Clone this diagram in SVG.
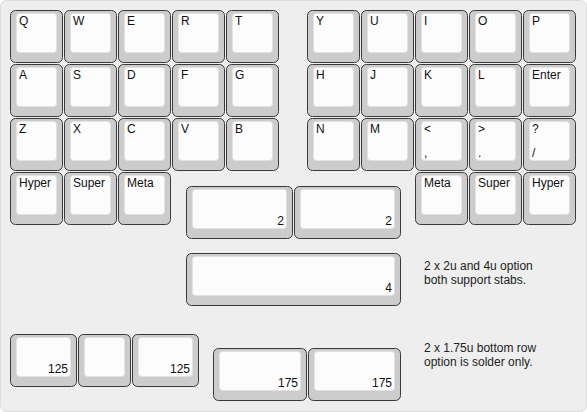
<svg xmlns="http://www.w3.org/2000/svg" width="587" height="412" viewBox="0 0 587 412">
<style>
.o{fill:#cccccc;stroke:#3a3a3a;stroke-width:1}
.i{fill:#fcfcfc;stroke:#e2e2e2;stroke-width:1}
text{font-family:"Liberation Sans",Arial,sans-serif;font-size:12px;fill:#111}
.r{text-anchor:end}
.n{fill:#222}
</style>
<rect x="0.5" y="0.5" width="586" height="411" rx="6" fill="#eeeeee" stroke="#dddddd"/>
<g id="keys">
<g id="k-Q"><rect class="o" x="10.5" y="10.5" width="52" height="52" rx="5"/><rect class="i" x="16.5" y="13.5" width="40" height="39" rx="3"/><text x="19" y="25">Q</text></g>
<g id="k-W"><rect class="o" x="64.5" y="10.5" width="52" height="52" rx="5"/><rect class="i" x="70.5" y="13.5" width="40" height="39" rx="3"/><text x="73" y="25">W</text></g>
<g id="k-E"><rect class="o" x="118.5" y="10.5" width="52" height="52" rx="5"/><rect class="i" x="124.5" y="13.5" width="40" height="39" rx="3"/><text x="127" y="25">E</text></g>
<g id="k-R"><rect class="o" x="172.5" y="10.5" width="52" height="52" rx="5"/><rect class="i" x="178.5" y="13.5" width="40" height="39" rx="3"/><text x="181" y="25">R</text></g>
<g id="k-T"><rect class="o" x="226.5" y="10.5" width="52" height="52" rx="5"/><rect class="i" x="232.5" y="13.5" width="40" height="39" rx="3"/><text x="235" y="25">T</text></g>
<g id="k-Y"><rect class="o" x="307.5" y="10.5" width="52" height="52" rx="5"/><rect class="i" x="313.5" y="13.5" width="40" height="39" rx="3"/><text x="316" y="25">Y</text></g>
<g id="k-U"><rect class="o" x="361.5" y="10.5" width="52" height="52" rx="5"/><rect class="i" x="367.5" y="13.5" width="40" height="39" rx="3"/><text x="370" y="25">U</text></g>
<g id="k-I"><rect class="o" x="415.5" y="10.5" width="52" height="52" rx="5"/><rect class="i" x="421.5" y="13.5" width="40" height="39" rx="3"/><text x="424" y="25">I</text></g>
<g id="k-O"><rect class="o" x="469.5" y="10.5" width="52" height="52" rx="5"/><rect class="i" x="475.5" y="13.5" width="40" height="39" rx="3"/><text x="478" y="25">O</text></g>
<g id="k-P"><rect class="o" x="523.5" y="10.5" width="52" height="52" rx="5"/><rect class="i" x="529.5" y="13.5" width="40" height="39" rx="3"/><text x="532" y="25">P</text></g>

<g id="k-A"><rect class="o" x="10.5" y="64.5" width="52" height="52" rx="5"/><rect class="i" x="16.5" y="67.5" width="40" height="39" rx="3"/><text x="19" y="79">A</text></g>
<g id="k-S"><rect class="o" x="64.5" y="64.5" width="52" height="52" rx="5"/><rect class="i" x="70.5" y="67.5" width="40" height="39" rx="3"/><text x="73" y="79">S</text></g>
<g id="k-D"><rect class="o" x="118.5" y="64.5" width="52" height="52" rx="5"/><rect class="i" x="124.5" y="67.5" width="40" height="39" rx="3"/><text x="127" y="79">D</text></g>
<g id="k-F"><rect class="o" x="172.5" y="64.5" width="52" height="52" rx="5"/><rect class="i" x="178.5" y="67.5" width="40" height="39" rx="3"/><text x="181" y="79">F</text></g>
<g id="k-G"><rect class="o" x="226.5" y="64.5" width="52" height="52" rx="5"/><rect class="i" x="232.5" y="67.5" width="40" height="39" rx="3"/><text x="235" y="79">G</text></g>
<g id="k-H"><rect class="o" x="307.5" y="64.5" width="52" height="52" rx="5"/><rect class="i" x="313.5" y="67.5" width="40" height="39" rx="3"/><text x="316" y="79">H</text></g>
<g id="k-J"><rect class="o" x="361.5" y="64.5" width="52" height="52" rx="5"/><rect class="i" x="367.5" y="67.5" width="40" height="39" rx="3"/><text x="370" y="79">J</text></g>
<g id="k-K"><rect class="o" x="415.5" y="64.5" width="52" height="52" rx="5"/><rect class="i" x="421.5" y="67.5" width="40" height="39" rx="3"/><text x="424" y="79">K</text></g>
<g id="k-L"><rect class="o" x="469.5" y="64.5" width="52" height="52" rx="5"/><rect class="i" x="475.5" y="67.5" width="40" height="39" rx="3"/><text x="478" y="79">L</text></g>
<g id="k-Enter"><rect class="o" x="523.5" y="64.5" width="52" height="52" rx="5"/><rect class="i" x="529.5" y="67.5" width="40" height="39" rx="3"/><text x="532" y="79">Enter</text></g>

<g id="k-Z"><rect class="o" x="10.5" y="118.5" width="52" height="52" rx="5"/><rect class="i" x="16.5" y="121.5" width="40" height="39" rx="3"/><text x="19" y="133">Z</text></g>
<g id="k-X"><rect class="o" x="64.5" y="118.5" width="52" height="52" rx="5"/><rect class="i" x="70.5" y="121.5" width="40" height="39" rx="3"/><text x="73" y="133">X</text></g>
<g id="k-C"><rect class="o" x="118.5" y="118.5" width="52" height="52" rx="5"/><rect class="i" x="124.5" y="121.5" width="40" height="39" rx="3"/><text x="127" y="133">C</text></g>
<g id="k-V"><rect class="o" x="172.5" y="118.5" width="52" height="52" rx="5"/><rect class="i" x="178.5" y="121.5" width="40" height="39" rx="3"/><text x="181" y="133">V</text></g>
<g id="k-B"><rect class="o" x="226.5" y="118.5" width="52" height="52" rx="5"/><rect class="i" x="232.5" y="121.5" width="40" height="39" rx="3"/><text x="235" y="133">B</text></g>
<g id="k-N"><rect class="o" x="307.5" y="118.5" width="52" height="52" rx="5"/><rect class="i" x="313.5" y="121.5" width="40" height="39" rx="3"/><text x="316" y="133">N</text></g>
<g id="k-M"><rect class="o" x="361.5" y="118.5" width="52" height="52" rx="5"/><rect class="i" x="367.5" y="121.5" width="40" height="39" rx="3"/><text x="370" y="133">M</text></g>
<g id="k-comma"><rect class="o" x="415.5" y="118.5" width="52" height="52" rx="5"/><rect class="i" x="421.5" y="121.5" width="40" height="39" rx="3"/><text x="424" y="133">&lt;</text><text x="424" y="157">,</text></g>
<g id="k-period"><rect class="o" x="469.5" y="118.5" width="52" height="52" rx="5"/><rect class="i" x="475.5" y="121.5" width="40" height="39" rx="3"/><text x="478" y="133">&gt;</text><text x="478" y="157">.</text></g>
<g id="k-slash"><rect class="o" x="523.5" y="118.5" width="52" height="52" rx="5"/><rect class="i" x="529.5" y="121.5" width="40" height="39" rx="3"/><text x="532" y="133">?</text><text x="532" y="157">/</text></g>

<g id="k-HyperL"><rect class="o" x="10.5" y="172.5" width="52" height="52" rx="5"/><rect class="i" x="16.5" y="175.5" width="40" height="39" rx="3"/><text x="19" y="187">Hyper</text></g>
<g id="k-SuperL"><rect class="o" x="64.5" y="172.5" width="52" height="52" rx="5"/><rect class="i" x="70.5" y="175.5" width="40" height="39" rx="3"/><text x="73" y="187">Super</text></g>
<g id="k-MetaL"><rect class="o" x="118.5" y="172.5" width="52" height="52" rx="5"/><rect class="i" x="124.5" y="175.5" width="40" height="39" rx="3"/><text x="127" y="187">Meta</text></g>
<g id="k-MetaR"><rect class="o" x="415.5" y="172.5" width="52" height="52" rx="5"/><rect class="i" x="421.5" y="175.5" width="40" height="39" rx="3"/><text x="424" y="187">Meta</text></g>
<g id="k-SuperR"><rect class="o" x="469.5" y="172.5" width="52" height="52" rx="5"/><rect class="i" x="475.5" y="175.5" width="40" height="39" rx="3"/><text x="478" y="187">Super</text></g>
<g id="k-HyperR"><rect class="o" x="523.5" y="172.5" width="52" height="52" rx="5"/><rect class="i" x="529.5" y="175.5" width="40" height="39" rx="3"/><text x="532" y="187">Hyper</text></g>

<g id="k-2u-a"><rect class="o" x="186.5" y="186.5" width="106" height="52" rx="5"/><rect class="i" x="192.5" y="189.5" width="94" height="39" rx="3"/><text class="r" x="284" y="225">2</text></g>
<g id="k-2u-b"><rect class="o" x="294.5" y="186.5" width="106" height="52" rx="5"/><rect class="i" x="300.5" y="189.5" width="94" height="39" rx="3"/><text class="r" x="392" y="225">2</text></g>
<g id="k-4u"><rect class="o" x="186.5" y="253.5" width="214" height="52" rx="5"/><rect class="i" x="192.5" y="256.5" width="202" height="39" rx="3"/><text class="r" x="392" y="292">4</text></g>

<g id="k-125a"><rect class="o" x="10.5" y="334.5" width="66" height="52" rx="5"/><rect class="i" x="16.5" y="337.5" width="54" height="39" rx="3"/><text class="r" x="68" y="373">125</text></g>
<g id="k-1u"><rect class="o" x="78.5" y="334.5" width="52" height="52" rx="5"/><rect class="i" x="84.5" y="337.5" width="40" height="39" rx="3"/></g>
<g id="k-125b"><rect class="o" x="132.5" y="334.5" width="66" height="52" rx="5"/><rect class="i" x="138.5" y="337.5" width="54" height="39" rx="3"/><text class="r" x="190" y="373">125</text></g>
<g id="k-175a"><rect class="o" x="213.5" y="348.5" width="93" height="52" rx="5"/><rect class="i" x="219.5" y="351.5" width="81" height="39" rx="3"/><text class="r" x="298" y="387">175</text></g>
<g id="k-175b"><rect class="o" x="308.5" y="348.5" width="92" height="52" rx="5"/><rect class="i" x="314.5" y="351.5" width="80" height="39" rx="3"/><text class="r" x="392" y="387">175</text></g>
</g>
<g id="notes">
<text class="n" x="424" y="270">2 x 2u and 4u option</text>
<text class="n" x="424" y="284">both support stabs.</text>
<text class="n" x="424" y="352">2 x 1.75u bottom row</text>
<text class="n" x="424" y="366">option is solder only.</text>
</g>
<g id="connectors"/>
</svg>
